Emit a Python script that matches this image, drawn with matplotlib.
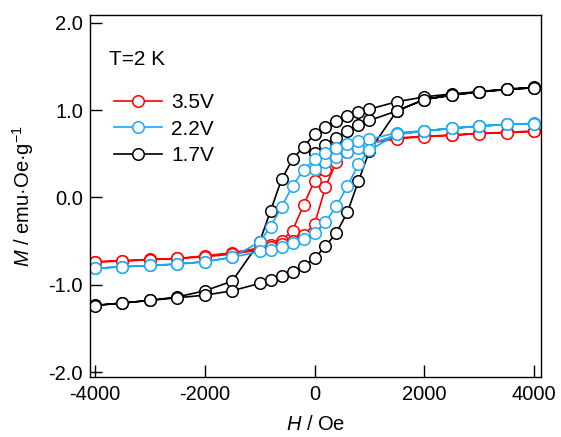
import matplotlib
matplotlib.use('Agg')
import matplotlib.pyplot as plt
from matplotlib.lines import Line2D

plt.rcParams['font.family'] = ['Liberation Sans', 'DejaVu Sans']
plt.rcParams['axes.unicode_minus'] = False
plt.rcParams['mathtext.fontset'] = 'custom'
plt.rcParams['mathtext.rm'] = 'Liberation Sans'
plt.rcParams['mathtext.it'] = 'Liberation Sans:italic'

# field values (Oe)
H_down = [4000, 3500, 3000, 2500, 2000, 1500, 1000, 800, 600, 400, 200, 0,
          -200, -400, -600, -800, -1000, -1500, -2000, -2500, -3000, -3500, -4000]
H_up = H_down[::-1]
H_init = [0, 200, 400, 600, 800, 1000, 1500, 2000, 2500, 3000, 3500, 4000]

# 1.7 V
m17_init = [0.51, 0.60, 0.68, 0.76, 0.83, 0.88, 0.99, 1.12, 1.17, 1.21, 1.235, 1.255]
m17_down = [1.26, 1.24, 1.21, 1.185, 1.15, 1.095, 1.01, 0.975, 0.935, 0.877, 0.81, 0.72,
            0.58, 0.435, 0.206, -0.153, -0.51, -0.96, -1.07, -1.14, -1.18, -1.21, -1.235]
m17_up = [-1.24, -1.21, -1.18, -1.15, -1.12, -1.07, -0.985, -0.945, -0.905, -0.85, -0.787, -0.70,
          -0.558, -0.405, -0.17, 0.187, 0.53, 0.99, 1.12, 1.17, 1.205, 1.235, 1.255]

# 2.2 V
m22_init = [0.32, 0.40, 0.465, 0.52, 0.56, 0.60, 0.72, 0.76, 0.79, 0.815, 0.835, 0.845]
m22_down = [0.847, 0.836, 0.817, 0.79, 0.763, 0.74, 0.664, 0.645, 0.607, 0.56, 0.51, 0.435,
            0.313, 0.13, -0.107, -0.337, -0.51, -0.687, -0.737, -0.764, -0.78, -0.795, -0.813]
m22_up = [-0.813, -0.795, -0.78, -0.764, -0.737, -0.687, -0.62, -0.60, -0.566, -0.527, -0.48, -0.41,
          -0.28, -0.10, 0.13, 0.38, 0.54, 0.72, 0.76, 0.79, 0.815, 0.835, 0.845]

# 3.5 V
m35_down = [0.76, 0.745, 0.733, 0.713, 0.70, 0.68, 0.63, 0.60, 0.56, 0.485, 0.31, 0.19,
            -0.09, -0.38, -0.497, -0.546, -0.58, -0.634, -0.67, -0.70, -0.71, -0.726, -0.737]
m35_up = [-0.74, -0.73, -0.715, -0.70, -0.68, -0.65, -0.60, -0.57, -0.53, -0.50, -0.43, -0.31,
          0.12, 0.41, 0.52, 0.58, 0.62, 0.67, 0.695, 0.71, 0.73, 0.74, 0.755]

labels = ['3.5V', '2.2V', '1.7V']
colors = ['#ff0000', '#1ea7f5', '#000000']

fig = plt.figure(figsize=(5.61, 4.37), dpi=100)
ax = fig.add_axes([0.1604, 0.1373, 0.8039, 0.8284])

sty = dict(marker='o', ms=8.3, mfc='white', mew=1.1, lw=1.2)

H17 = H_init + H_down + H_up
M17 = m17_init + m17_down + m17_up
ax.plot(H17, M17, color=colors[2], **sty)

H35 = H_down + H_up
M35 = m35_down + m35_up
ax.plot(H35, M35, color=colors[0], **sty)

H22 = H_init + H_down + H_up
M22 = m22_init + m22_down + m22_up
ax.plot(H22, M22, color=colors[1], **sty)

handles = [Line2D([], [], color=c, **sty) for c in colors]
ax.legend(handles, labels, loc='upper left', bbox_to_anchor=(0.035, 0.807),
          frameon=False, fontsize=15, handlelength=2.3, handletextpad=0.45,
          labelspacing=0.36, borderaxespad=0)
ax.text(0.042, 0.876, 'T=2 K', transform=ax.transAxes, fontsize=15, va='center')

ax.set_xlim(-4090, 4125)
ax.set_ylim(-2.057, 2.088)
ax.set_xticks([-4000, -2000, 0, 2000, 4000])
ax.set_yticks([-2.0, -1.0, 0.0, 1.0, 2.0])
ax.set_yticklabels(['-2.0', '-1.0', '0.0', '1.0', '2.0'])
ax.tick_params(direction='in', length=8.5, width=1, labelsize=14.5)
ax.tick_params(axis='x', pad=6)
ax.tick_params(axis='y', pad=5)
for s in ax.spines.values():
    s.set_linewidth(1.0)

ax.set_xlabel('$H$ / Oe', fontsize=14.5, labelpad=8)
ax.set_ylabel('$M$ / emu·Oe·g$^{-1}$', fontsize=14.5, labelpad=9)

plt.savefig('out.png', dpi=100)
